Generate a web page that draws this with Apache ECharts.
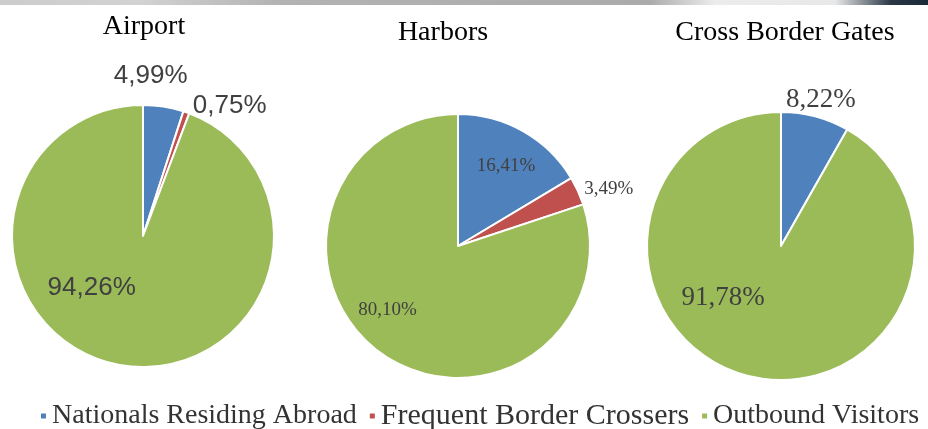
<!DOCTYPE html>
<html>
<head>
<meta charset="utf-8">
<script src="https://cdn.jsdelivr.net/npm/echarts@6/dist/echarts.min.js"></script>
<style>
  html, body { margin: 0; padding: 0; background: #fff; }
  #main { width: 928px; height: 429px; }
</style>
</head>
<body>
<div id="main"></div>
<script>
// categories (legend)
var categories = ["Nationals Residing Abroad", "Frequent Border Crossers", "Outbound Visitors"];
// chart titles
var titles = ["Airport", "Harbors", "Cross Border Gates"];
// shares in % per category
var airportValues = [4.99, 0.75, 94.26];
var harborValues = [16.41, 3.49, 80.10];
var crossValues = [8.22, 0, 91.78];

var colors = ["#4F81BD", "#C0504D", "#9BBB59"];
var SERIF = "Liberation Serif";
var SANS = "Liberation Sans";

// pie placement, label look (kept out of the data)
var pies = [
  { center: [143, 236], radius: 131, font: SANS, size: 26,
    offsets: [[-3, -93], [64, -66], [-39, -16]] },
  { center: [458, 246], radius: 132, font: SERIF, size: 19,
    offsets: [[14, -20], [88, -28], [-30, 8]] },
  { center: [781, 246], radius: 134, font: SERIF, size: 27,
    offsets: [[22, -78], [0, 0], [-40, -16]] }
];
var titlePos = [[139, 8], [438, 14], [780, 14]];
var legendSizes = [28, 30, 28];

function fmt(v) {
  return v.toFixed(2).replace(".", ",") + "%";
}

function buildSeries(values, p) {
  var data = [];
  values.forEach(function (v, i) {
    if (v <= 0) return;
    data.push({
      name: categories[i],
      value: v,
      label: { offset: p.offsets[i] }
    });
  });
  return {
    type: "pie",
    center: p.center,
    radius: p.radius,
    startAngle: 90,
    clockwise: true,
    animation: false,
    silent: true,
    itemStyle: { borderColor: "#fff", borderWidth: 2 },
    label: {
      show: true,
      position: "inside",
      formatter: function (d) { return fmt(d.value); },
      fontFamily: p.font,
      fontSize: p.size,
      color: "#404040"
    },
    labelLine: { show: false },
    data: data
  };
}

var myEcharts = echarts.init(document.getElementById("main"), null, { renderer: "canvas" });
var option = {
  color: colors,
  backgroundColor: "#fff",
  title: titles.map(function (t, i) {
    return {
      text: t,
      left: titlePos[i][0],
      top: titlePos[i][1],
      textAlign: "center",
      textStyle: { fontFamily: SERIF, fontSize: 28, fontWeight: "normal", color: "#000" }
    };
  }),
  legend: {
    data: categories.map(function (c, i) {
      return { name: c, textStyle: { fontFamily: SERIF, fontSize: legendSizes[i], color: "#333" } };
    }),
    left: 34,
    top: 396,
    width: 1200,
    icon: "rect",
    itemWidth: 7,
    itemHeight: 7,
    itemGap: 11,
    textStyle: { fontFamily: SERIF, fontSize: 28, color: "#333" }
  },
  graphic: [
    {
      type: "rect",
      left: 0,
      top: 0,
      shape: { width: 928, height: 5 },
      style: {
        fill: new echarts.graphic.LinearGradient(0, 0, 1, 0, [
          { offset: 0, color: "#cccccc" },
          { offset: 0.15, color: "#d2d2d2" },
          { offset: 0.3, color: "#b3b3b3" },
          { offset: 0.7, color: "#ababab" },
          { offset: 0.77, color: "#ececec" },
          { offset: 0.9, color: "#e8e8e8" },
          { offset: 0.96, color: "#2a3846" },
          { offset: 1, color: "#1b2a38" }
        ])
      },
      silent: true
    }
  ],
  series: [
    buildSeries(airportValues, pies[0]),
    buildSeries(harborValues, pies[1]),
    buildSeries(crossValues, pies[2])
  ]
};
myEcharts.setOption(option);
</script>
</body>
</html>
